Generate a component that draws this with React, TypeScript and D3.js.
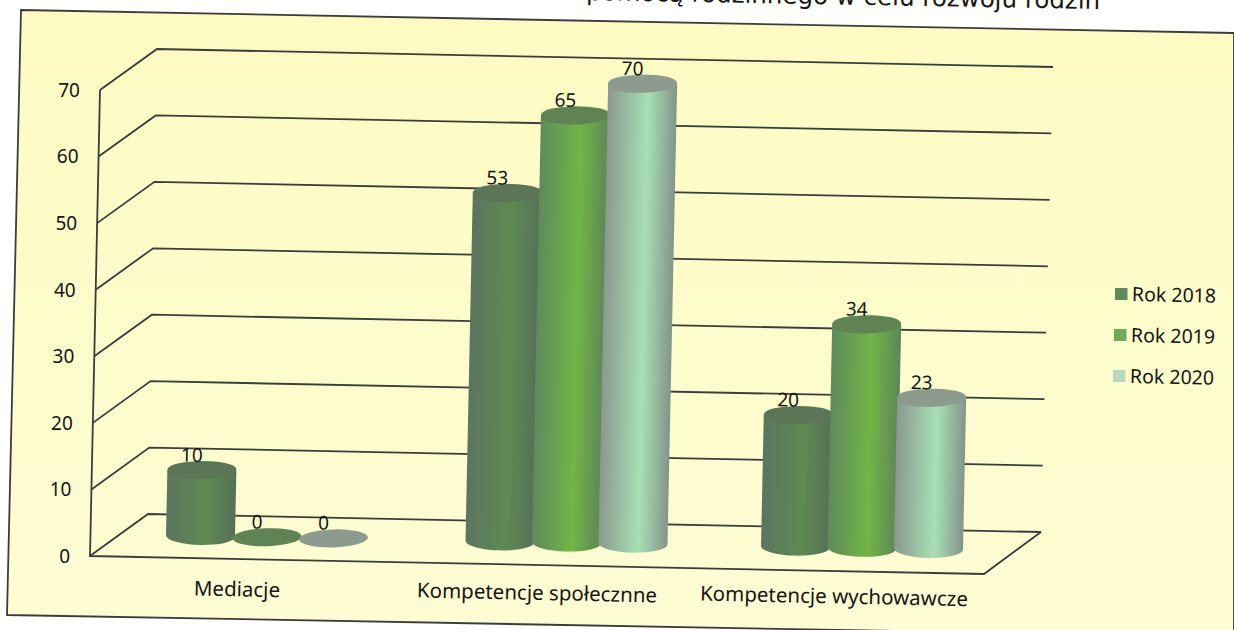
import React from "react";
import * as d3 from "d3";

const categories = ["Mediacje", "Kompetencje społecznne", "Kompetencje wychowawcze"];
const seriesNames = ["Rok 2018", "Rok 2019", "Rok 2020"];
const rok2018 = [10, 53, 20];
const rok2019 = [0, 65, 34];
const rok2020 = [0, 70, 23];
const seriesValues = [rok2018, rok2019, rok2020];
const yTicks = [0, 10, 20, 30, 40, 50, 60, 70];
const titleText = "pomocą rodzinnego w celu rozwoju rodzin";

const bodyColors = [
  ["#5b7560", "#5e8a52", "#567058"],
  ["#5f8a5c", "#72b546", "#5d8558"],
  ["#8b998f", "#a8e0b4", "#84948a"],
];
const topColors = ["#5a7656", "#5f8352", "#8d9a8e"];
const legendColors = ["#5f8a5f", "#6fa95c", "#b9d8c0"];
const tilt = 1.2;
const font = "'Noto Sans', sans-serif";
const titleFont = "'DejaVu Sans', sans-serif";
const ink = "#161616";
const lineInk = "#3b3d3d";

const v = d3.scaleLinear().domain([0, 70]);
const frontX = v.copy().range([90, 100]);
const frontY = v.copy().range([556, 90]);
const backLX = v.copy().range([148, 157]);
const backLY = v.copy().range([514, 49]);
const backRX = v.copy().range([1041, 1053]);
const backRY = v.copy().range([532, 67]);

const groupX = d3.scaleOrdinal<string, number>().domain(categories).range([267, 566.5, 862]);
const seriesOffset = d3.scalePoint<string>().domain(seriesNames).range([-66.5, 66.5]);
const baseY = d3.scaleLinear().domain([200, 929]).range([536, 549]);
const barHeight = d3.scaleLinear().domain([0, 70]).range([0, 460]);
const labelX = d3.scaleOrdinal<string, number>().domain(categories).range([237, 537, 834]);
const labelY = d3.scaleLinear().domain([237, 834]).range([589, 596]);
const legendY = d3.scalePoint<string>().domain(seriesNames).range([294, 376]);

const seg = d3.line();
const RX = 34.5;
const RY = 9;

function cylinderPath(h: number) {
  return `M${-RX},0 A${RX},${RY} 0 0 0 ${RX},0 L${RX},${-h} A${RX},${RY} 0 0 0 ${-RX},${-h} Z`;
}

export default function App() {
  const rad = (tilt * Math.PI) / 180;
  return (
    <svg
      width={1234}
      height={630}
      viewBox="0 0 1234 630"
      style={{ position: "absolute", left: 0, top: 0, display: "block", background: "#fffffd" }}
    >
      <defs>
        {bodyColors.map((c, i) => (
          <linearGradient key={i} id={`body${i}`} x1="0" x2="1" y1="0" y2="0">
            <stop offset="0" stopColor={c[0]} />
            <stop offset="0.58" stopColor={c[1]} />
            <stop offset="1" stopColor={c[2]} />
          </linearGradient>
        ))}
        <linearGradient id="paper" x1="0" x2="0" y1="0" y2="1">
          <stop offset="0" stopColor="#fdfbc2" />
          <stop offset="1" stopColor="#fdfcd4" />
        </linearGradient>
      </defs>

      <path
        d="M21,10 L1234,33 L1234,637 L7,615 Z"
        fill="url(#paper)"
        stroke={lineInk}
        strokeWidth={1.8}
      />

      <text
        x={1100}
        y={9}
        textAnchor="end"
        transform="rotate(1 1100 9)"
        fontFamily={titleFont}
        fontSize={24.5}
        fill={ink}
      >
        {titleText}
      </text>

      {yTicks.map((t) => (
        <path
          key={t}
          d={
            seg([
              [frontX(t), frontY(t)],
              [backLX(t), backLY(t)],
              [backRX(t), backRY(t)],
            ]) as string
          }
          fill="none"
          stroke={lineInk}
          strokeWidth={1.8}
        />
      ))}
      <path
        d={
          seg([
            [frontX(70), frontY(70)],
            [frontX(0), frontY(0)],
            [984, 574],
            [backRX(0), backRY(0)],
          ]) as string
        }
        fill="none"
        stroke={lineInk}
        strokeWidth={1.8}
      />

      {yTicks.map((t) => (
        <text
          key={t}
          x={frontX(t) - 20}
          y={frontY(t)}
          dy="0.36em"
          textAnchor="end"
          fontFamily={font}
          fontSize={19}
          fill={ink}
        >
          {t}
        </text>
      ))}

      {categories.map((cat, ci) =>
        seriesNames.map((s, si) => {
          const val = seriesValues[si][ci];
          const cx = groupX(cat) + (seriesOffset(s) as number);
          const y0 = baseY(cx);
          const h = barHeight(val);
          return (
            <g key={s + cat} transform={`translate(${cx},${y0}) rotate(${tilt})`}>
              {h > 0 && <path d={cylinderPath(h)} fill={`url(#body${si})`} />}
              <ellipse
                cx={0}
                cy={-h}
                rx={RX}
                ry={RY}
                fill={topColors[si]}
                transform={`rotate(-3 0 ${-h})`}
              />
            </g>
          );
        })
      )}

      {categories.map((cat, ci) =>
        seriesNames.map((s, si) => {
          const val = seriesValues[si][ci];
          const cx = groupX(cat) + (seriesOffset(s) as number);
          const h = barHeight(val);
          const lx = cx + h * Math.sin(rad) - 10;
          const ly = baseY(cx) - h * Math.cos(rad) - 15.5;
          return (
            <text
              key={s + cat}
              x={lx}
              y={ly}
              dy="0.36em"
              textAnchor="middle"
              fontFamily={font}
              fontSize={19}
              fill={ink}
              transform={`rotate(${tilt} ${lx} ${ly})`}
            >
              {val}
            </text>
          );
        })
      )}

      {categories.map((cat) => {
        const lx = labelX(cat);
        const ly = labelY(lx);
        return (
          <text
            key={cat}
            x={lx}
            y={ly}
            dy="0.36em"
            textAnchor="middle"
            fontFamily={font}
            fontSize={20.5}
            fill={ink}
            transform={`rotate(${tilt} ${lx} ${ly})`}
          >
            {cat}
          </text>
        );
      })}

      {seriesNames.map((s, i) => {
        const ly = legendY(s) as number;
        const lx = 1115 - i;
        return (
          <g key={s}>
            <rect x={lx} y={ly - 6} width={12.5} height={12} fill={legendColors[i]} />
            <text
              x={lx + 17}
              y={ly}
              dy="0.36em"
              fontFamily={font}
              fontSize={19.5}
              fill={ink}
              transform={`rotate(${tilt} ${lx + 17} ${ly})`}
            >
              {s}
            </text>
          </g>
        );
      })}
    </svg>
  );
}
